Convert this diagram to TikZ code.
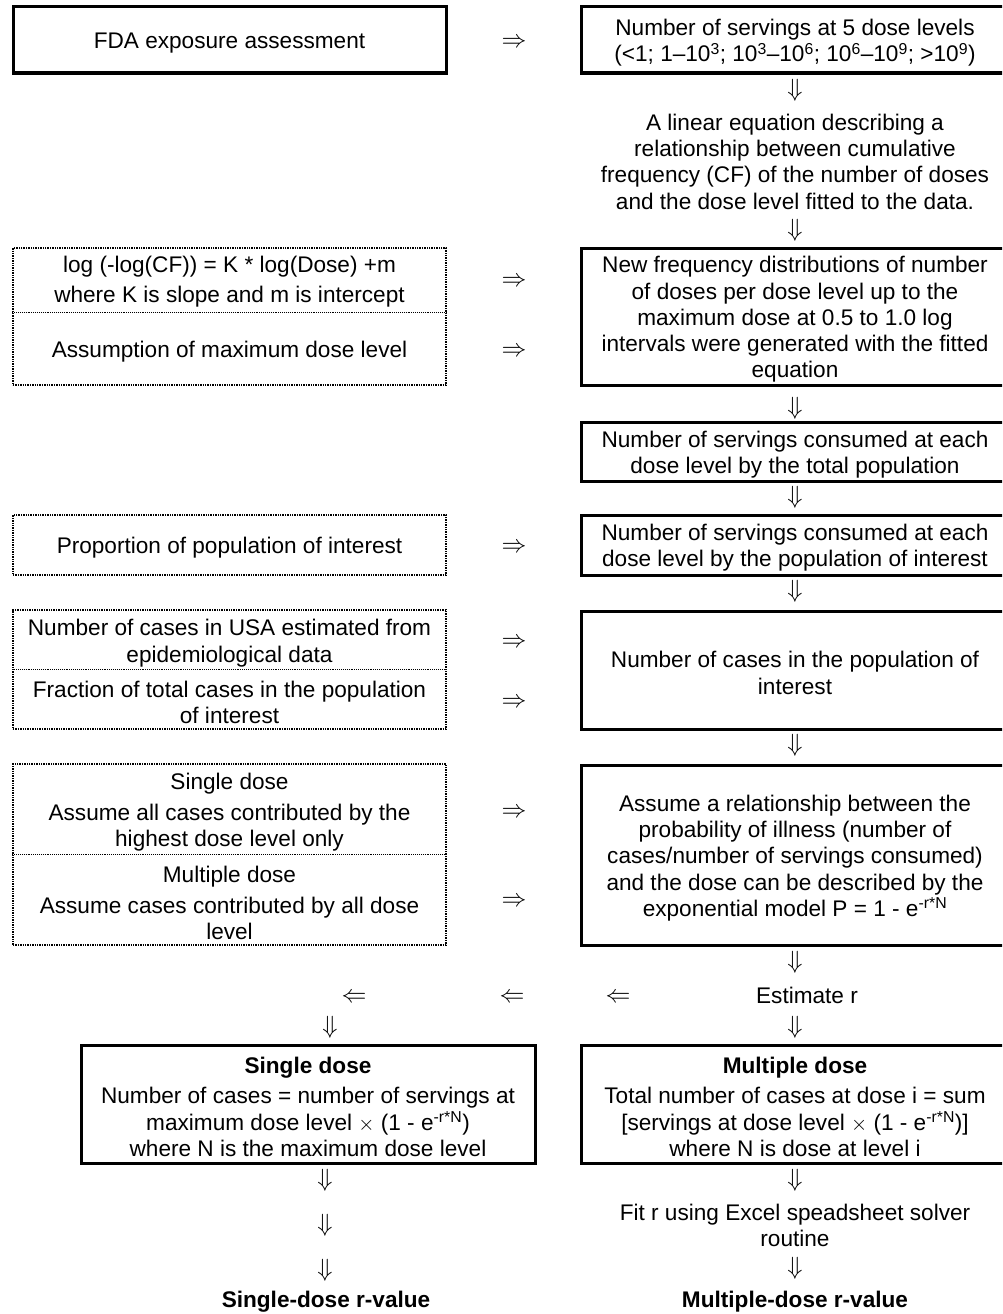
\documentclass[tikz,border=0pt]{standalone}
\usepackage{fontspec}
\setmainfont{Liberation Sans}
\begin{document}
\begin{tikzpicture}[x=1pt,y=-1pt,
  every node/.style={font=\fontsize{22.6}{26.3}\selectfont, inner sep=0pt, align=center},
  txt/.style={yshift=-3pt},
  solidbox/.style={draw, line width=3pt},
  rbox/.style={solidbox, minimum width=428pt},
  dotbox/.style={draw, densely dotted, line width=1.4pt, minimum width=433pt},
  divider/.style={densely dotted, line width=0.9pt},
  glyph/.style={font=\fontsize{23.5}{26}\selectfont}]
\useasboundingbox (0,0) rectangle (1002,1314);
\clip (0,0) rectangle (1002,1314);

% ---------- left column ----------
\node[solidbox, minimum width=433pt, minimum height=66pt] (fda) at (229.5,40) {};
\node[txt] (fdat) at (fda.center) {FDA exposure assessment};

\node[dotbox, minimum height=137pt] (logbox) at (229.5,316.5) {};
\coordinate (d1) at (0,312);
\draw[divider] (logbox.west |- d1) -- (logbox.east |- d1);
\node[txt] (logt1) at (229.5,279) {log (-log(CF)) = K * log(Dose) +m\\[3.5pt]where K is slope and m is intercept};
\node[txt] (logt2) at (229.5,349) {Assumption of maximum dose level};

\node[dotbox, minimum height=60pt] (prop) at (229.5,545) {};
\node[txt] (propt) at (prop.center) {Proportion of population of interest};

\node[dotbox, minimum height=119pt] (casbox) at (229.5,669.5) {};
\coordinate (d2) at (0,669);
\draw[divider] (casbox.west |- d2) -- (casbox.east |- d2);
\node[txt] (cast1) at (229.5,640) {Number of cases in USA estimated from\\epidemiological data};
\node[txt] (cast2) at (229.5,699.5) {Fraction of total cases in the population\\of interest};

\node[dotbox, minimum height=181pt] (dosbox) at (229.5,854.5) {};
\coordinate (d3) at (0,854);
\draw[divider] (dosbox.west |- d3) -- (dosbox.east |- d3);
\node[txt] (dost1) at (229.5,809) {Single dose\\[5pt]Assume all cases contributed by the\\highest dose level only};
\node[txt] (dost2) at (229.5,900) {Multiple dose\\[5pt]Assume cases contributed by all dose\\level};

% ---------- right column ----------
\node[rbox, minimum height=66pt] (r1) at (795,40) {};
\node[txt] (r1t) at (r1.center) {Number of servings at 5 dose levels\\(<1; 1--10\textsuperscript{3}; 10\textsuperscript{3}--10\textsuperscript{6}; 10\textsuperscript{6}--10\textsuperscript{9}; >10\textsuperscript{9})};
\node (r2) at (795,161.5) {A linear equation describing a\\relationship between cumulative\\frequency (CF) of the number of doses\\and the dose level fitted to the data.};
\node[rbox, minimum height=137pt] (r3) at (795,316.5) {};
\node[txt] (r3t) at (r3.center) {New frequency distributions of number\\of doses per dose level up to the\\maximum dose at 0.5 to 1.0 log\\intervals were generated with the fitted\\equation};
\node[rbox, minimum height=59pt] (r4) at (795,451.5) {};
\node[txt] (r4t) at (r4.center) {Number of servings consumed at each\\dose level by the total population};
\node[rbox, minimum height=60pt] (r5) at (795,545) {};
\node[txt] (r5t) at (r5.center) {Number of servings consumed at each\\dose level by the population of interest};
\node[rbox, minimum height=118pt] (r6) at (795,670) {};
\node[txt] (r6t) at (r6.center) {Number of cases in the population of\\interest};
\node[rbox, minimum height=180pt] (r7) at (795,855) {};
\node[txt] (r7t) at (r7.center) {Assume a relationship between the\\probability of illness (number of\\cases/number of servings consumed)\\and the dose can be described by the\\exponential model P = 1 - e\textsuperscript{-r*N}};
\node (est) at (807,995) {Estimate r};
\node[rbox, minimum height=118pt] (r8) at (795,1104) {};
\node[txt] (r8t) at (r8.center) {\textbf{Multiple dose}\\[4pt]Total number of cases at dose i = sum\\{}[servings at dose level $\times$ (1 - e\textsuperscript{-r*N})]\\where N is dose at level i};
\node (fit) at (795,1225.5) {Fit r using Excel speadsheet solver\\routine};
\node (mrv) at (795,1302) {\textbf{Multiple-dose r-value}};

% ---------- single dose branch ----------
\node[solidbox, minimum width=454pt, minimum height=118pt] (sd) at (308,1104) {};
\node[txt] (sdt) at (sd.center) {\textbf{Single dose}\\[4pt]Number of cases = number of servings at\\maximum dose level $\times$ (1 - e\textsuperscript{-r*N})\\where N is the maximum dose level};
\node (srv) at (326,1302) {\textbf{Single-dose r-value}};

% ---------- arrow glyphs ----------
\node[glyph] (ra1) at (514,43) {$\Rightarrow$};
\node[glyph] (ra2) at (514,282) {$\Rightarrow$};
\node[glyph] (ra3) at (514,352) {$\Rightarrow$};
\node[glyph] (ra4) at (514,548) {$\Rightarrow$};
\node[glyph] (ra5) at (514,643) {$\Rightarrow$};
\node[glyph] (ra6) at (514,703) {$\Rightarrow$};
\node[glyph] (ra7) at (514,813) {$\Rightarrow$};
\node[glyph] (ra8) at (514,902) {$\Rightarrow$};

\node[glyph] (da1) at (795,90) {$\Downarrow$};
\node[glyph] (da2) at (795,230) {$\Downarrow$};
\node[glyph] (da3) at (795,408) {$\Downarrow$};
\node[glyph] (da4) at (795,497) {$\Downarrow$};
\node[glyph] (da5) at (795,591) {$\Downarrow$};
\node[glyph] (da6) at (795,745) {$\Downarrow$};
\node[glyph] (da7) at (795,962) {$\Downarrow$};
\node[glyph] (da8) at (795,1027) {$\Downarrow$};
\node[glyph] (da9) at (795,1180) {$\Downarrow$};
\node[glyph] (da10) at (795,1268) {$\Downarrow$};

\node[glyph] (la1) at (618,998) {$\Leftarrow$};
\node[glyph] (la2) at (512,998) {$\Leftarrow$};
\node[glyph] (la3) at (354,998) {$\Leftarrow$};

\node[glyph] (sa1) at (330,1027) {$\Downarrow$};
\node[glyph] (sa2) at (325,1180) {$\Downarrow$};
\node[glyph] (sa3) at (325,1225) {$\Downarrow$};
\node[glyph] (sa4) at (325,1270) {$\Downarrow$};
\end{tikzpicture}
\end{document}
